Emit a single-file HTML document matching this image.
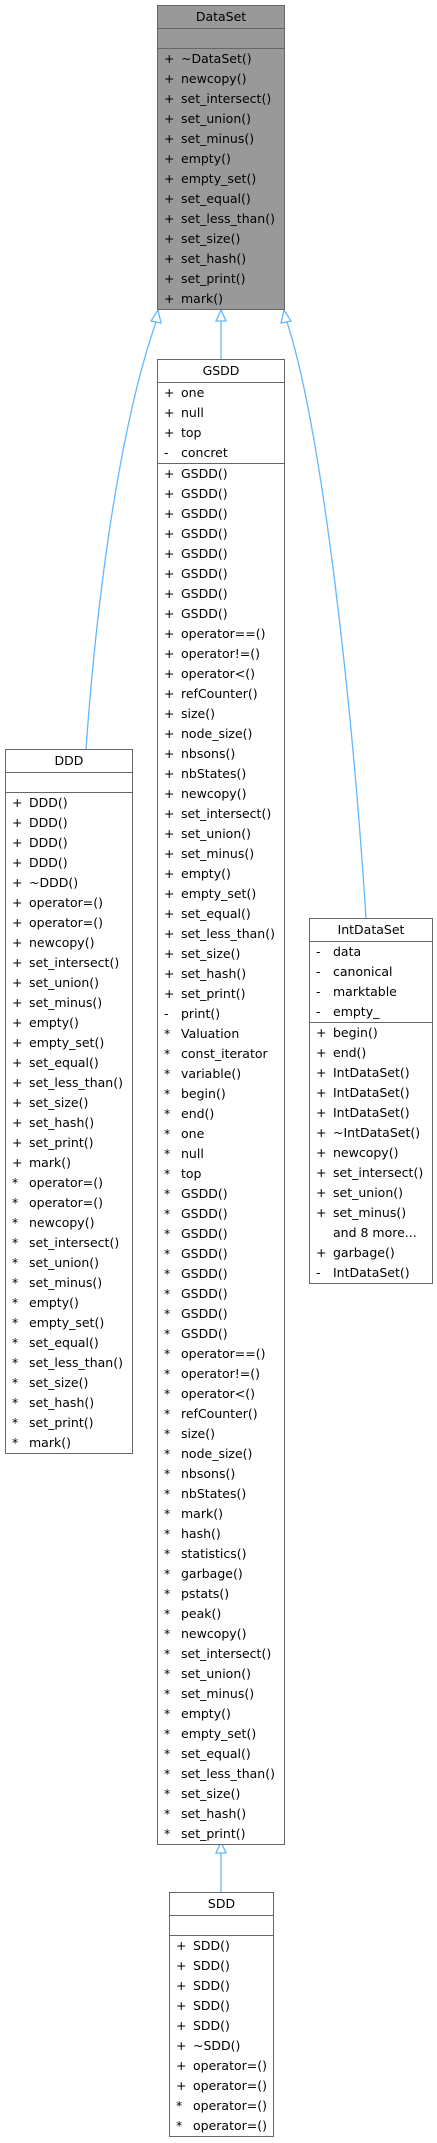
<!DOCTYPE html>
<html><head><meta charset="utf-8"><style>
body{margin:0;width:437px;height:2143px;position:relative;background:#fff;font-family:"DejaVu Sans","Liberation Sans",sans-serif;font-size:12.5px;color:#000}
.b{position:absolute;box-sizing:border-box;border:1.3px solid #666;background:#fff}
.t{height:22px;line-height:22px;text-align:center;border-bottom:1.3px solid #666}
.e{height:19px;border-bottom:1.3px solid #666}
.s{border-bottom:1.3px solid #666}
.s:last-child{border-bottom:none}
.r{height:20px;line-height:20px;white-space:nowrap;padding-left:6px}
.r i{font-style:normal;display:inline-block;width:17px}
svg{position:absolute;left:0;top:0}
</style></head><body>
<svg width="437" height="2143">
<g fill="none" stroke="#63b8ff" stroke-width="1.3">
<path d="M86,749 C98,580 122,420 156,322"/>
<path d="M221,321 L221,359"/>
<path d="M366,918 C352,700 322,430 287,322"/>
<path d="M221,1853 L221,1892"/>
</g>
<g fill="#fff" stroke="#63b8ff" stroke-width="1.3">
<polygon points="158,310 151,321 161,323"/>
<polygon points="221,310 216,321 226,321"/>
<polygon points="284,310 281,323 291,321"/>
<polygon points="221,1842 216,1853 226,1853"/>
</g>
</svg>

<div class="b" style="left:157px;top:5px;width:128px;background:#999">
<div class="t">DataSet</div><div class="e"></div>
<div class="s">
<div class="r"><i>+</i>~DataSet()</div><div class="r"><i>+</i>newcopy()</div><div class="r"><i>+</i>set_intersect()</div><div class="r"><i>+</i>set_union()</div><div class="r"><i>+</i>set_minus()</div><div class="r"><i>+</i>empty()</div><div class="r"><i>+</i>empty_set()</div><div class="r"><i>+</i>set_equal()</div><div class="r"><i>+</i>set_less_than()</div><div class="r"><i>+</i>set_size()</div><div class="r"><i>+</i>set_hash()</div><div class="r"><i>+</i>set_print()</div><div class="r"><i>+</i>mark()</div>
</div></div>

<div class="b" style="left:5px;top:749px;width:128px">
<div class="t">DDD</div><div class="e"></div>
<div class="s">
<div class="r"><i>+</i>DDD()</div><div class="r"><i>+</i>DDD()</div><div class="r"><i>+</i>DDD()</div><div class="r"><i>+</i>DDD()</div><div class="r"><i>+</i>~DDD()</div><div class="r"><i>+</i>operator=()</div><div class="r"><i>+</i>operator=()</div><div class="r"><i>+</i>newcopy()</div><div class="r"><i>+</i>set_intersect()</div><div class="r"><i>+</i>set_union()</div><div class="r"><i>+</i>set_minus()</div><div class="r"><i>+</i>empty()</div><div class="r"><i>+</i>empty_set()</div><div class="r"><i>+</i>set_equal()</div><div class="r"><i>+</i>set_less_than()</div><div class="r"><i>+</i>set_size()</div><div class="r"><i>+</i>set_hash()</div><div class="r"><i>+</i>set_print()</div><div class="r"><i>+</i>mark()</div>
<div class="r"><i>*</i>operator=()</div><div class="r"><i>*</i>operator=()</div><div class="r"><i>*</i>newcopy()</div><div class="r"><i>*</i>set_intersect()</div><div class="r"><i>*</i>set_union()</div><div class="r"><i>*</i>set_minus()</div><div class="r"><i>*</i>empty()</div><div class="r"><i>*</i>empty_set()</div><div class="r"><i>*</i>set_equal()</div><div class="r"><i>*</i>set_less_than()</div><div class="r"><i>*</i>set_size()</div><div class="r"><i>*</i>set_hash()</div><div class="r"><i>*</i>set_print()</div><div class="r"><i>*</i>mark()</div>
</div></div>

<div class="b" style="left:157px;top:359px;width:128px">
<div class="t">GSDD</div>
<div class="s">
<div class="r"><i>+</i>one</div><div class="r"><i>+</i>null</div><div class="r"><i>+</i>top</div><div class="r"><i>-</i>concret</div>
</div>
<div class="s">
<div class="r"><i>+</i>GSDD()</div><div class="r"><i>+</i>GSDD()</div><div class="r"><i>+</i>GSDD()</div><div class="r"><i>+</i>GSDD()</div><div class="r"><i>+</i>GSDD()</div><div class="r"><i>+</i>GSDD()</div><div class="r"><i>+</i>GSDD()</div><div class="r"><i>+</i>GSDD()</div>
<div class="r"><i>+</i>operator==()</div><div class="r"><i>+</i>operator!=()</div><div class="r"><i>+</i>operator&lt;()</div><div class="r"><i>+</i>refCounter()</div><div class="r"><i>+</i>size()</div><div class="r"><i>+</i>node_size()</div><div class="r"><i>+</i>nbsons()</div><div class="r"><i>+</i>nbStates()</div>
<div class="r"><i>+</i>newcopy()</div><div class="r"><i>+</i>set_intersect()</div><div class="r"><i>+</i>set_union()</div><div class="r"><i>+</i>set_minus()</div><div class="r"><i>+</i>empty()</div><div class="r"><i>+</i>empty_set()</div><div class="r"><i>+</i>set_equal()</div><div class="r"><i>+</i>set_less_than()</div><div class="r"><i>+</i>set_size()</div><div class="r"><i>+</i>set_hash()</div><div class="r"><i>+</i>set_print()</div>
<div class="r"><i>-</i>print()</div>
<div class="r"><i>*</i>Valuation</div><div class="r"><i>*</i>const_iterator</div><div class="r"><i>*</i>variable()</div><div class="r"><i>*</i>begin()</div><div class="r"><i>*</i>end()</div><div class="r"><i>*</i>one</div><div class="r"><i>*</i>null</div><div class="r"><i>*</i>top</div>
<div class="r"><i>*</i>GSDD()</div><div class="r"><i>*</i>GSDD()</div><div class="r"><i>*</i>GSDD()</div><div class="r"><i>*</i>GSDD()</div><div class="r"><i>*</i>GSDD()</div><div class="r"><i>*</i>GSDD()</div><div class="r"><i>*</i>GSDD()</div><div class="r"><i>*</i>GSDD()</div>
<div class="r"><i>*</i>operator==()</div><div class="r"><i>*</i>operator!=()</div><div class="r"><i>*</i>operator&lt;()</div><div class="r"><i>*</i>refCounter()</div><div class="r"><i>*</i>size()</div><div class="r"><i>*</i>node_size()</div><div class="r"><i>*</i>nbsons()</div><div class="r"><i>*</i>nbStates()</div>
<div class="r"><i>*</i>mark()</div><div class="r"><i>*</i>hash()</div><div class="r"><i>*</i>statistics()</div><div class="r"><i>*</i>garbage()</div><div class="r"><i>*</i>pstats()</div><div class="r"><i>*</i>peak()</div>
<div class="r"><i>*</i>newcopy()</div><div class="r"><i>*</i>set_intersect()</div><div class="r"><i>*</i>set_union()</div><div class="r"><i>*</i>set_minus()</div><div class="r"><i>*</i>empty()</div><div class="r"><i>*</i>empty_set()</div><div class="r"><i>*</i>set_equal()</div><div class="r"><i>*</i>set_less_than()</div><div class="r"><i>*</i>set_size()</div><div class="r"><i>*</i>set_hash()</div><div class="r"><i>*</i>set_print()</div>
</div></div>

<div class="b" style="left:309px;top:918px;width:124px">
<div class="t">IntDataSet</div>
<div class="s">
<div class="r"><i>-</i>data</div><div class="r"><i>-</i>canonical</div><div class="r"><i>-</i>marktable</div><div class="r"><i>-</i>empty_</div>
</div>
<div class="s">
<div class="r"><i>+</i>begin()</div><div class="r"><i>+</i>end()</div><div class="r"><i>+</i>IntDataSet()</div><div class="r"><i>+</i>IntDataSet()</div><div class="r"><i>+</i>IntDataSet()</div><div class="r"><i>+</i>~IntDataSet()</div><div class="r"><i>+</i>newcopy()</div><div class="r"><i>+</i>set_intersect()</div><div class="r"><i>+</i>set_union()</div><div class="r"><i>+</i>set_minus()</div><div class="r"><i></i>and 8 more...</div><div class="r"><i>+</i>garbage()</div><div class="r"><i>-</i>IntDataSet()</div>
</div></div>

<div class="b" style="left:169px;top:1892px;width:105px">
<div class="t">SDD</div><div class="e"></div>
<div class="s">
<div class="r"><i>+</i>SDD()</div><div class="r"><i>+</i>SDD()</div><div class="r"><i>+</i>SDD()</div><div class="r"><i>+</i>SDD()</div><div class="r"><i>+</i>SDD()</div><div class="r"><i>+</i>~SDD()</div><div class="r"><i>+</i>operator=()</div><div class="r"><i>+</i>operator=()</div><div class="r"><i>*</i>operator=()</div><div class="r"><i>*</i>operator=()</div>
</div></div>
</body></html>
